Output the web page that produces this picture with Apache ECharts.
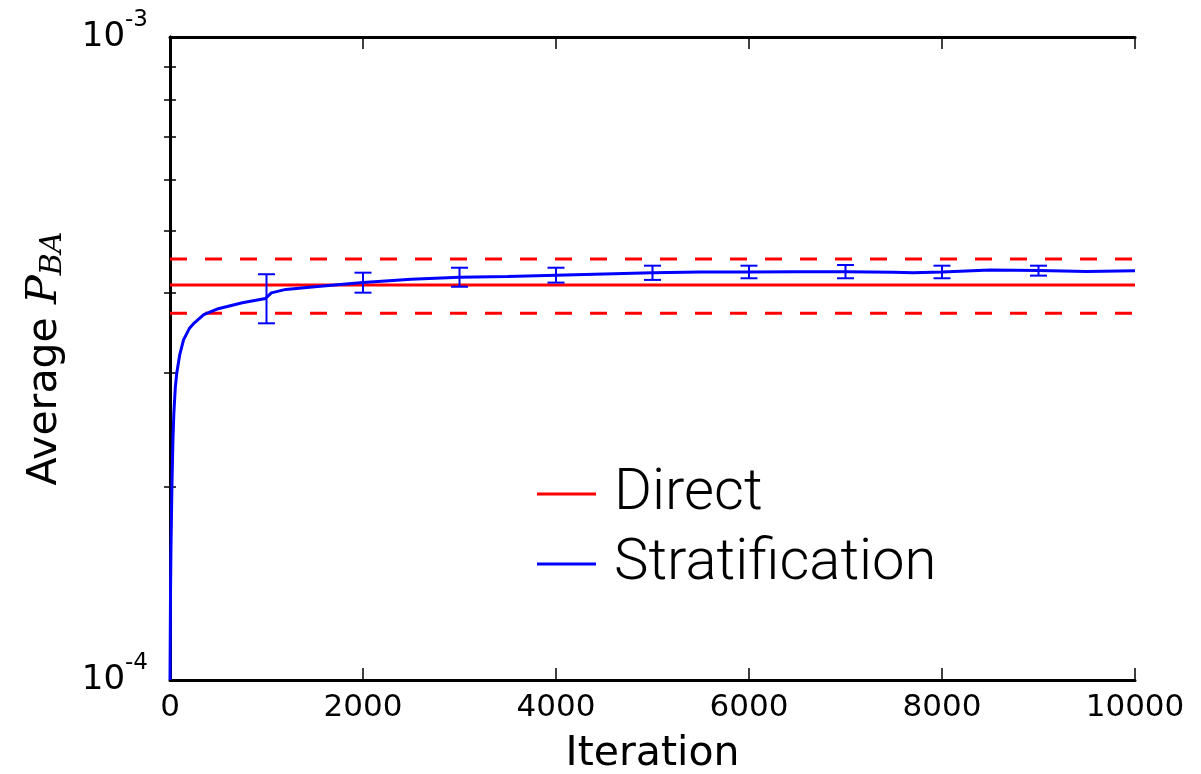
<!DOCTYPE html>
<html><head><meta charset="utf-8">
<script src="https://cdn.jsdelivr.net/npm/echarts@6/dist/echarts.min.js"></script>
<style>html,body{margin:0;padding:0;background:#fff}#c{width:1201px;height:774px}</style>
</head><body><div id="c"></div>
<script>
// ---- data ----
const iterations = [0, 5, 10, 20, 30, 40, 55, 70, 100, 140, 200, 250, 350, 500, 750, 990, 1000, 1050, 1200, 1500, 2000, 2500, 3000, 3500, 4000, 4500, 5000, 5500, 6000, 6500, 7000, 7500, 7700, 8000, 8500, 9000, 9500, 10000];
const stratification = [1.0e-4, 1.35e-4, 1.6e-4, 2.0e-4, 2.35e-4, 2.6e-4, 2.85e-4, 3.0e-4, 3.2e-4, 3.38e-4, 3.52e-4, 3.59e-4, 3.70e-4, 3.78e-4, 3.86e-4, 3.92e-4, 3.94e-4, 4.0e-4, 4.05e-4, 4.09e-4, 4.15e-4, 4.20e-4, 4.23e-4, 4.24e-4, 4.26e-4, 4.28e-4, 4.30e-4, 4.31e-4, 4.31e-4, 4.315e-4, 4.316e-4, 4.305e-4, 4.30e-4, 4.31e-4, 4.34e-4, 4.335e-4, 4.32e-4, 4.33e-4];
const errIterations = [1000, 2000, 3000, 4000, 5000, 6000, 7000, 8000, 9000];
const errLower = [3.587e-4, 4.003e-4, 4.089e-4, 4.15e-4, 4.19e-4, 4.215e-4, 4.215e-4, 4.215e-4, 4.255e-4];
const errUpper = [4.276e-4, 4.30e-4, 4.377e-4, 4.377e-4, 4.409e-4, 4.409e-4, 4.42e-4, 4.409e-4, 4.409e-4];
const directValue = 4.115e-4;
const directUpper = 4.516e-4;
const directLower = 3.72e-4;
const xRange = [0, 10000];
const yRange = [1e-4, 1e-3];
const yMajorTicks = [1e-4, 1e-3];
const yMinorTicks = [2e-4, 3e-4, 4e-4, 5e-4, 6e-4, 7e-4, 8e-4, 9e-4];

// ---- chart ----
const chart = echarts.init(document.getElementById('c'), null, {renderer: 'canvas'});
const stratData = iterations.map((x, i) => [x, stratification[i]]);
const errData = errIterations.map((x, i) => [x, errLower[i], errUpper[i]]);
const hline = v => xRange.map(x => [x, v]);

const tickFont = 'DejaVu Sans';
const axisLineStyle = {color: '#000', width: 3};

function yLabelFmt(v) {
  const e = Math.round(Math.log10(v));
  return '{b|10}{s|' + e + '}';
}
const yLabelRich = {
  b: {fontSize: 34, lineHeight: 56, fontFamily: tickFont, color: '#000', verticalAlign: 'middle'},
  s: {fontSize: 23, lineHeight: 23, fontFamily: tickFont, color: '#000', verticalAlign: 'top'}
};

const yBase = {
  type: 'log', logBase: 10, min: yRange[0], max: yRange[1],
  axisLine: {show: true, lineStyle: axisLineStyle},
  splitLine: {show: false},
  axisTick: {show: true, inside: true, length: 6, customValues: yMinorTicks, lineStyle: {color: '#000', width: 1.5}}
};
const xBase = {
  type: 'value', min: xRange[0], max: xRange[1], interval: 2000,
  axisLine: {show: true, lineStyle: axisLineStyle},
  splitLine: {show: false},
  axisTick: {show: true, inside: true, length: 12, lineStyle: {color: '#000', width: 1.5}}
};

chart.setOption({
  animation: false,
  backgroundColor: '#fff',
  grid: {left: 170, right: 66, top: 37, bottom: 94, containLabel: false, outerBoundsMode: 'none'},
  xAxis: [
    Object.assign({}, xBase, {
      position: 'bottom',
      axisLabel: {show: true, fontSize: 31, fontFamily: tickFont, color: '#000', margin: 12,
                  formatter: v => String(v)},
      name: 'Iteration', nameLocation: 'middle', nameGap: 54,
      nameTextStyle: {fontSize: 41, fontFamily: tickFont, color: '#000'}
    }),
    Object.assign({}, xBase, {position: 'top', axisLabel: {show: false}})
  ],
  yAxis: [
    Object.assign({}, yBase, {
      position: 'left',
      axisLabel: {show: true, customValues: yMajorTicks, formatter: yLabelFmt, rich: yLabelRich, margin: 22},
      name: '{n|Average }{p|P}{sub|BA}', nameLocation: 'middle', nameRotate: 90, nameGap: 102,
      nameTextStyle: {
        rich: {
          n: {fontSize: 41, fontFamily: tickFont, color: '#000', verticalAlign: 'middle'},
          p: {fontSize: 43, fontFamily: 'DejaVu Serif', fontStyle: 'italic', color: '#000', verticalAlign: 'middle'},
          sub: {fontSize: 30, fontFamily: 'DejaVu Serif', fontStyle: 'italic', color: '#000', padding: [16, 0, 0, 0], verticalAlign: 'middle'}
        }
      }
    }),
    Object.assign({}, yBase, {position: 'right', axisLabel: {show: false}})
  ],
  legend: {
    data: ['Direct', 'Stratification'],
    orient: 'vertical', left: 532, top: 459,
    icon: 'rect', itemWidth: 59, itemHeight: 3, itemGap: 10,
    textStyle: {fontSize: 58, fontFamily: 'Roboto', fontWeight: 300, color: '#000', lineHeight: 60, padding: [0, 0, 0, 13]}
  },
  series: [
    {name: 'Direct', type: 'line', data: hline(directValue), symbol: 'none',
     lineStyle: {color: '#ff0000', width: 3}, itemStyle: {color: '#ff0000'}, z: 2},
    {name: 'Direct upper', type: 'line', data: hline(directUpper), symbol: 'none',
     lineStyle: {color: '#ff0000', width: 3, type: [17, 18]}, itemStyle: {color: '#ff0000'}, z: 2},
    {name: 'Direct lower', type: 'line', data: hline(directLower), symbol: 'none',
     lineStyle: {color: '#ff0000', width: 3, type: [17, 18]}, itemStyle: {color: '#ff0000'}, z: 2},
    {name: 'Stratification', type: 'line', data: stratData, symbol: 'none',
     lineStyle: {color: '#0000ff', width: 3}, itemStyle: {color: '#0000ff'}, z: 3},
    {name: 'Stratification error', type: 'custom', data: errData, z: 4,
     renderItem: function (params, api) {
       const x = api.value(0);
       const lo = api.coord([x, api.value(1)]);
       const hi = api.coord([x, api.value(2)]);
       const hw = 8.5;
       const st = {stroke: '#0000ff', lineWidth: 2};
       return {type: 'group', children: [
         {type: 'line', shape: {x1: lo[0], y1: lo[1], x2: hi[0], y2: hi[1]}, style: st},
         {type: 'line', shape: {x1: lo[0] - hw, y1: lo[1], x2: lo[0] + hw, y2: lo[1]}, style: st},
         {type: 'line', shape: {x1: hi[0] - hw, y1: hi[1], x2: hi[0] + hw, y2: hi[1]}, style: st}
       ]};
     }}
  ]
});
</script></body></html>
